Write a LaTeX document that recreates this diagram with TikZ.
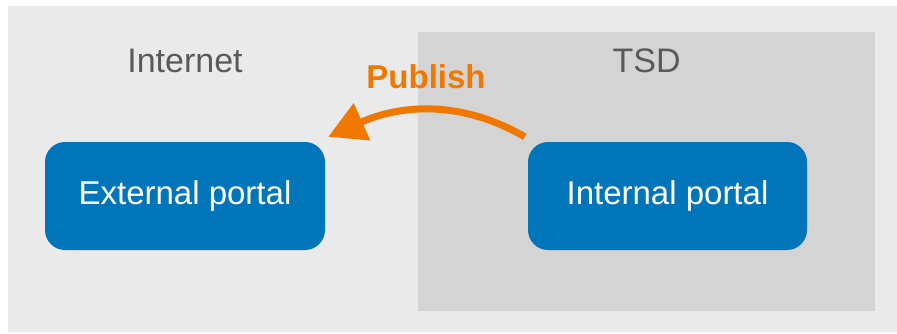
\documentclass[tikz,border=0pt]{standalone}
\usepackage{fontspec}
\setmainfont{Liberation Sans}
\usepackage{tikz}
\usetikzlibrary{arrows.meta,positioning,calc}
\usepackage{xcolor}
\definecolor{areagrey}{HTML}{EAEAEA}
\definecolor{tsdgrey}{HTML}{D4D4D4}
\definecolor{portalblue}{HTML}{0075BA}
\definecolor{publishorange}{HTML}{F07800}
\definecolor{labelgrey}{HTML}{5A5A5A}

\begin{document}
\begin{tikzpicture}[x=1pt, y=1pt,
    portal/.style={rectangle, fill=portalblue, text=white, rounded corners=20pt,
        minimum width=280pt, minimum height=108pt, inner sep=0pt,
        font=\fontsize{33}{40}\selectfont},
    zonelabel/.style={text=labelgrey, inner sep=0pt, anchor=base,
        font=\fontsize{34}{40}\selectfont},
    >={Triangle[length=37pt, width=39pt]}
]
\useasboundingbox (0,0) rectangle (897,333);
% grey areas: whole Internet side, TSD inside
\node[fill=areagrey, minimum width=889pt, minimum height=326pt, inner sep=0pt,
      anchor=south west] (inet) at (8,1) {};
\node[fill=tsdgrey, minimum width=457pt, minimum height=279pt, inner sep=0pt,
      anchor=south west] (tsd) at (418,22) {};
% the two portals
\node[portal] (ext) at (185,137) {External portal};
\node[portal, minimum width=279pt] (int) at (667.5,137) {Internal portal};
% area labels
\node[zonelabel] (inetlbl) at ([yshift=69pt]ext.north) {Internet};
\node[zonelabel] (tsdlbl) at (tsd.north |- inetlbl.base) {TSD};
\node[zonelabel, text=publishorange, font=\fontsize{33}{40}\selectfont\bfseries]
    (publish) at (426,245) {Publish};
\draw[->, publishorange, line width=7pt]
    ([shift={(-3pt,5pt)}]int.north west) to[out=150, in=24, looseness=1.0]
    ([shift={(3pt,5pt)}]ext.north east);
\end{tikzpicture}
\end{document}
